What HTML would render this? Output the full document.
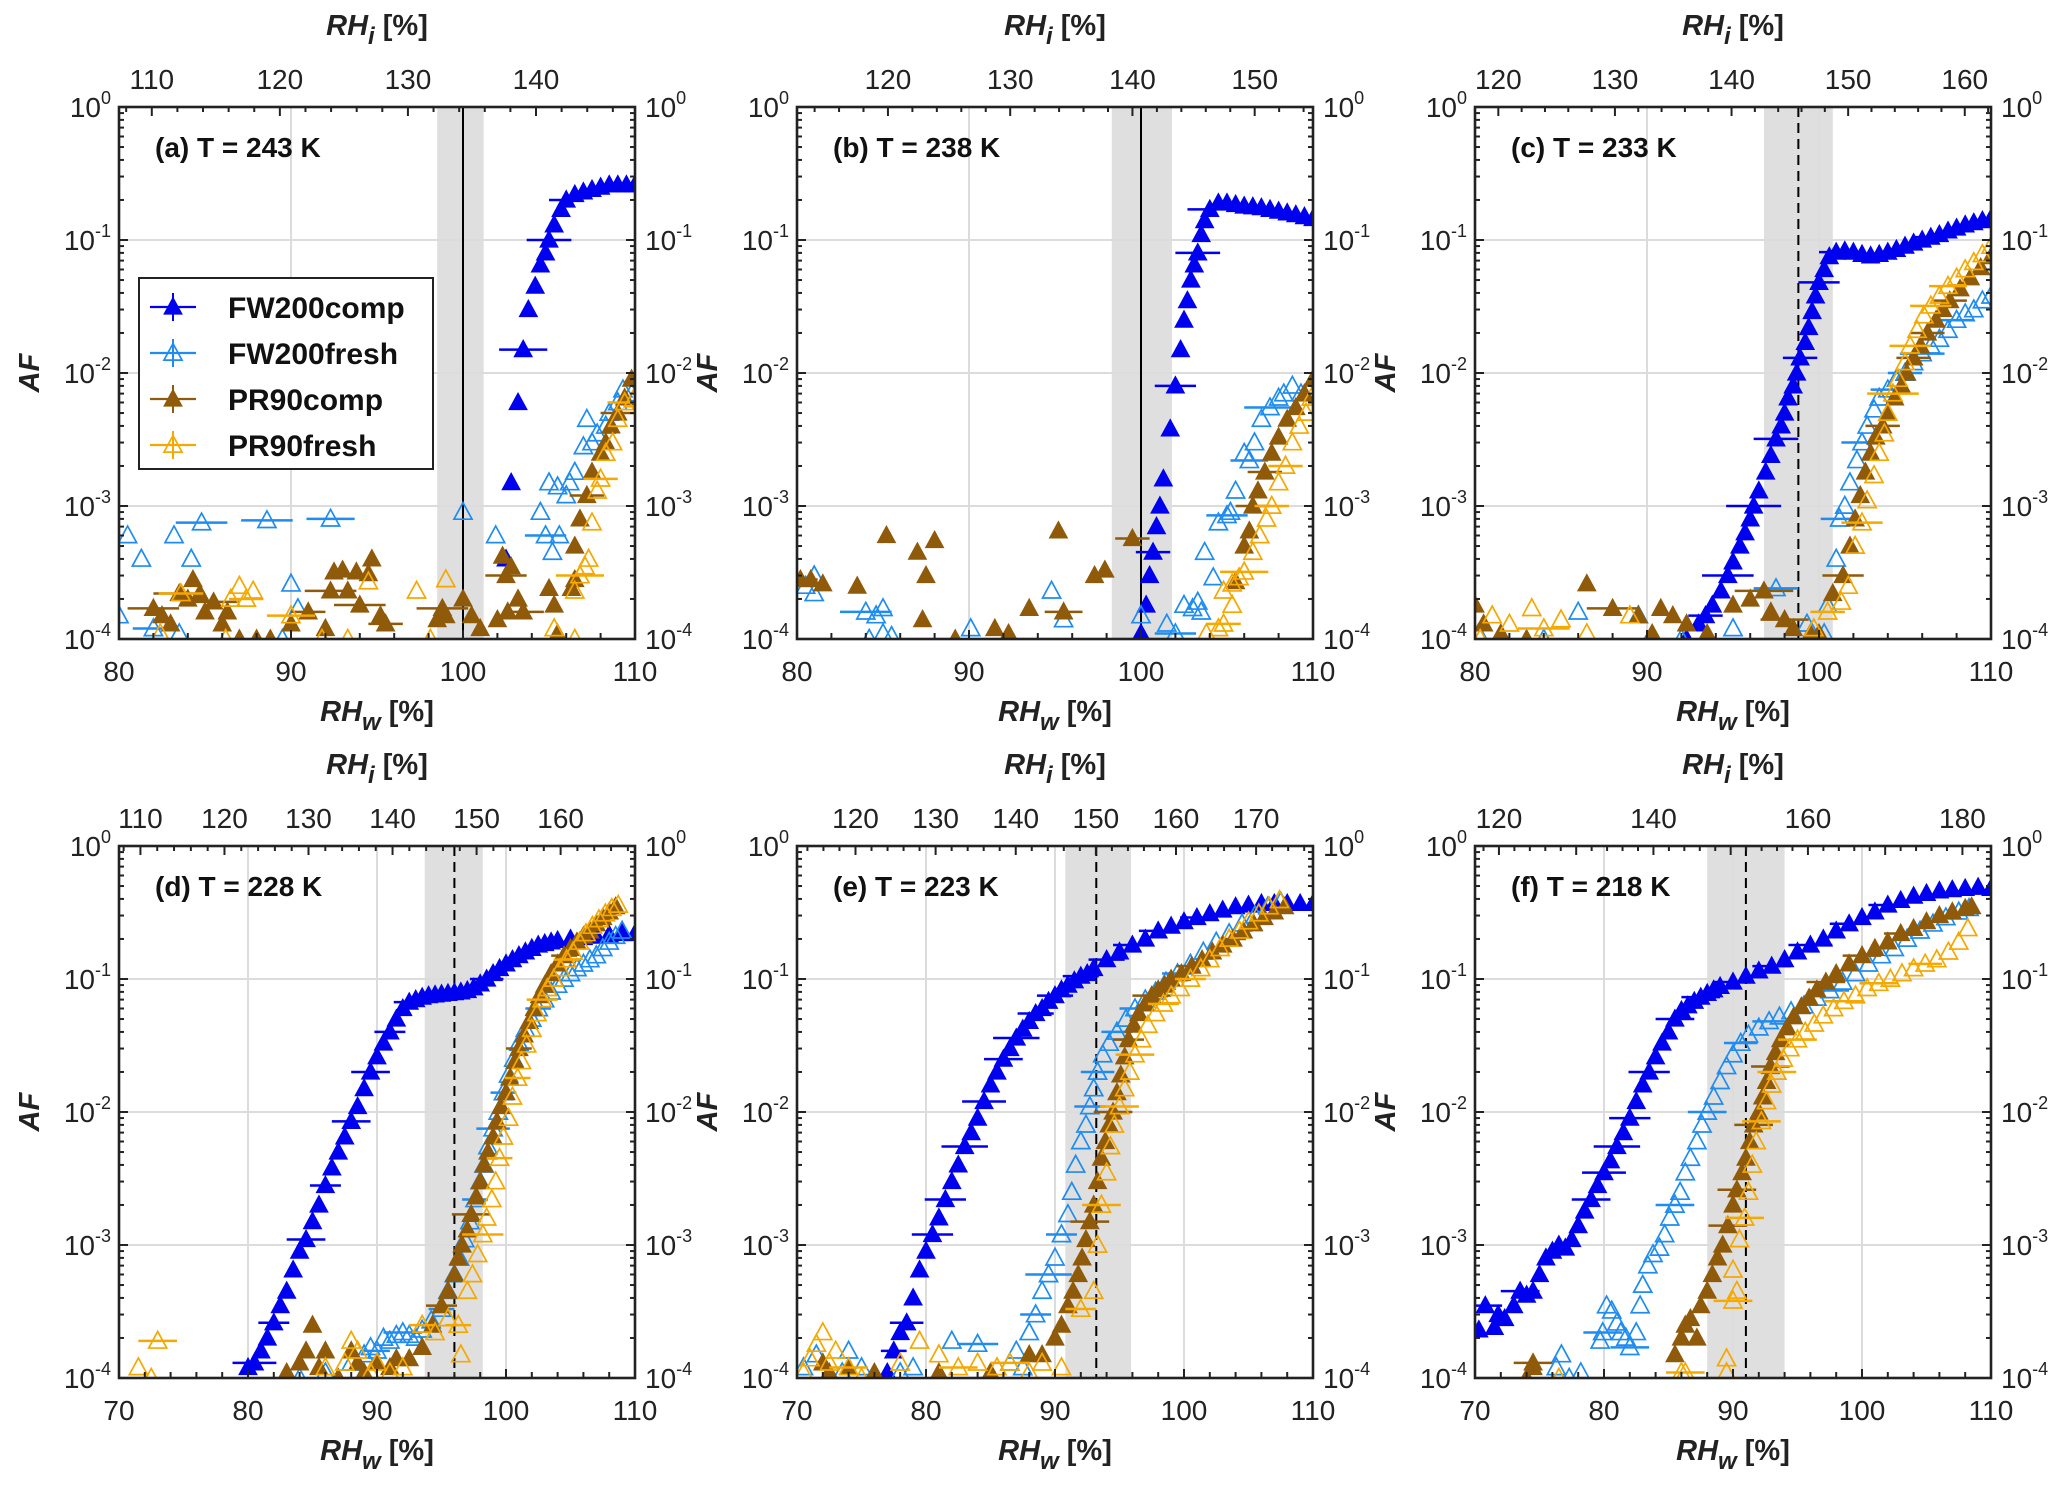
<!DOCTYPE html>
<html><head><meta charset="utf-8">
<style>
html,body{margin:0;padding:0;background:#fff;}
svg{display:block;font-family:"Liberation Sans",Arial,sans-serif;}
</style></head>
<body>
<svg id="chart" width="2067" height="1490" viewBox="0 0 2067 1490" xmlns="http://www.w3.org/2000/svg"></svg>
<script>
// ---------- DATA: [RHw %, AF, horizontal error half-width] ----------
const panelLabels = ["(a) T = 243 K","(b) T = 238 K","(c) T = 233 K","(d) T = 228 K","(e) T = 223 K","(f) T = 218 K"];
const xMins = [80,80,80,70,70,70];
const xTicks = [[80,90,100,110],[80,90,100,110],[80,90,100,110],[70,80,90,100,110],[70,80,90,100,110],[70,80,90,100,110]];
const iceRatios = [1.343,1.407,1.475,1.535,1.61,1.67];
const iceTicks = [[110,120,130,140],[120,130,140,150],[120,130,140,150,160],[110,120,130,140,150,160],[120,130,140,150,160,170],[120,140,160,180]];
const satLines = [100,100,98.8,96,93.2,91];
const satDashed = [false,false,true,true,true,true];
const shadeLo = [98.5,98.3,96.8,93.7,90.8,88];
const shadeHi = [101.2,101.8,100.8,98.2,95.9,94];
const yTickExps = [0,-1,-2,-3,-4];

const a_FW200comp=[[102.5,4e-4,0],[102.8,1.5e-3,0],[103.2,6e-3,0],[103.5,1.5e-2,1.4],[103.8,3e-2,0],[104.2,4.5e-2,0],[104.5,6.5e-2,0],[104.8,8e-2,0],[105,0.1,1.3],[105.3,0.13,0],[105.7,0.17,0],[106,0.2,1],[106.5,0.22,0],[107,0.23,0],[107.5,0.24,0],[108,0.25,0],[108.5,0.26,0],[109,0.26,0],[109.5,0.26,0],[110,0.26,0]];
const a_FW200fresh=[[80,1.5e-4,0],[80.5,6e-4,0],[81.3,4e-4,0],[83.2,6e-4,0],[84.2,4e-4,0],[84.8,7.5e-4,1.5],[88.6,7.8e-4,1.5],[92.3,8e-4,1.4],[90,2.6e-4,0],[90.4,1.7e-4,0],[89.5,1e-4,0],[82,1.2e-4,1.2],[83.5,1.1e-4,0],[100,9e-4,0],[101.9,6e-4,0],[104.5,9e-4,0],[104.8,6e-4,1.2],[105.6,6e-4,0],[105.2,4.5e-4,0],[105,1.5e-3,0],[105.5,1.4e-3,0],[106,1.2e-3,0],[106.2,1.5e-3,0],[106.5,1.8e-3,0],[107,2.8e-3,0],[107.2,4.5e-3,0],[107.5,3e-3,0],[107.8,3.5e-3,0],[108.3,4e-3,0],[108.5,5e-3,0],[109,6e-3,0],[109.3,7.5e-3,0],[109.8,7e-3,0]];
const a_PR90comp=[[82,1.7e-4,1.5],[82.5,1.5e-4,0],[83,1.3e-4,0],[83.5,2.2e-4,1.5],[84,2e-4,0],[84.3,2.8e-4,0],[84.7,2.2e-4,0],[85,1.6e-4,0],[85.5,1.9e-4,1.5],[86,1.3e-4,0],[86.3,1.6e-4,0],[87,1e-4,0],[88,1e-4,0],[88.8,1e-4,0],[90,1.3e-4,0],[91,1.6e-4,1],[92,1.2e-4,0],[92.3,2.3e-4,1.5],[92.5,3.2e-4,0],[93,3.3e-4,0],[93.3,2.3e-4,0],[93.8,3.2e-4,0],[94,1.8e-4,1.5],[94.5,3.1e-4,0],[94.7,4e-4,0],[95.2,1.5e-4,0],[95.5,1.3e-4,1],[98.5,1.4e-4,0],[98.8,1.7e-4,1.5],[99,1.5e-4,0],[100,2e-4,0],[100.5,1.5e-4,0],[101,1.2e-4,0],[102.3,4.2e-4,0],[102.5,3e-4,1.2],[102.8,3.5e-4,0],[102,1.4e-4,0],[102.6,1.6e-4,0],[103.2,2e-4,0],[103.5,1.6e-4,1.2],[105,2.4e-4,0],[105.3,1.8e-4,0],[105.5,1.1e-4,0],[106.3,2.4e-4,0],[106.5,2.8e-4,0],[106.5,5e-4,0],[106.8,8e-4,0],[107.2,1.2e-3,1],[107.5,1.8e-3,0],[108,2.5e-3,0],[108.3,3e-3,0],[108.6,4e-3,0],[109,5e-3,1],[109.4,6.5e-3,0],[109.8,9e-3,0]];
const a_PR90fresh=[[82.4,1.1e-4,0],[83.6,2.2e-4,1.3],[86.2,1e-4,0],[86.5,2e-4,0],[87,2.5e-4,0],[87.4,2e-4,1],[87.8,2.3e-4,0],[90,1.5e-4,1.4],[91.8,1e-4,0],[93.3,1e-4,0],[94.5,2.7e-4,0],[97.3,2.3e-4,0],[98.1,1e-4,0],[99,2.8e-4,0],[105.3,1.2e-4,0],[106.5,1e-4,0],[106.5,2.3e-4,0],[106.8,3e-4,1.4],[107.1,3.5e-4,0],[107.3,4e-4,0],[107.5,7.5e-4,0],[107.8,1.3e-3,0],[108,1.6e-3,1],[108.3,2.5e-3,0],[108.7,3e-3,0],[109,4.5e-3,0],[109.4,6e-3,1],[109.9,6.3e-3,0]];

const b_FW200comp=[[100,1.1e-4,0],[100.3,1.8e-4,0],[100.5,3e-4,0],[100.7,4.5e-4,1],[100.9,7e-4,0],[101.1,1e-3,0],[101.3,1.6e-3,0],[101.7,3.8e-3,0],[102,8e-3,1.2],[102.3,1.5e-2,0],[102.5,2.5e-2,0],[102.7,3.5e-2,0],[102.9,5e-2,0],[103.1,6.5e-2,0],[103.3,8e-2,1.3],[103.5,0.11,0],[103.7,0.14,0],[104,0.17,1.3],[104.5,0.19,0],[105,0.19,0],[105.5,0.185,0],[106,0.18,0],[106.5,0.178,0],[107,0.175,0],[107.5,0.17,0],[108,0.165,0],[108.5,0.16,0],[109,0.155,0],[109.5,0.15,0],[110,0.145,0]];
const b_FW200fresh=[[80.5,2.5e-4,0],[81,3e-4,0],[81,2.2e-4,0],[84,1.6e-4,1.5],[84.6,1.5e-4,0],[85,1.7e-4,0],[84.2,1e-4,0],[85,1.1e-4,0],[85.5,1.05e-4,0],[90.1,1.2e-4,0],[94.8,2.3e-4,0],[95.5,1.4e-4,0],[100,1.5e-4,0],[101.5,1.3e-4,0],[102,1.1e-4,1.2],[102.5,1.8e-4,0],[103,1.7e-4,0],[103.3,1.9e-4,0],[103.5,1.6e-4,0],[104.2,2.9e-4,0],[103.7,4.5e-4,0],[104.5,7.5e-4,0],[105,8.5e-4,1.2],[105.2,9e-4,0],[105.5,1.3e-3,0],[106,2.5e-3,0],[106.3,2.2e-3,1.1],[106.6,3e-3,0],[107,4.5e-3,0],[107.5,5.5e-3,1.5],[108,6.5e-3,0],[108.3,7e-3,0],[108.8,8e-3,0],[109.3,7e-3,0],[109.7,7.5e-3,0]];
const b_PR90comp=[[80.2,2.8e-4,1],[80.8,2.8e-4,0],[81.5,2.6e-4,0],[83.5,2.5e-4,0],[85.2,6e-4,0],[87,4.5e-4,0],[87.5,3e-4,0],[88,5.5e-4,0],[87.3,1.4e-4,0],[89.2,1e-4,0],[91.5,1.2e-4,0],[92.3,1.1e-4,0],[93.5,1.7e-4,0],[95.2,6.5e-4,0],[95.5,1.6e-4,1.1],[97.3,3e-4,0],[97.9,3.3e-4,0],[99.5,5.7e-4,1],[105.5,2.7e-4,0],[106,5e-4,0],[106.3,6.5e-4,0],[106.5,1e-3,1],[106.8,1.3e-3,0],[107.2,1.8e-3,1],[107.6,2.5e-3,0],[108,3.3e-3,0],[108.5,4.5e-3,0],[109,5.5e-3,0],[109.5,7e-3,0],[110,9e-3,0]];
const b_PR90fresh=[[103.8,1.1e-4,0],[104.5,1.2e-4,0],[104.8,1.3e-4,1],[105.3,1.8e-4,0],[104.8,2.3e-4,0],[105.3,2.6e-4,0],[105.7,2.9e-4,0],[106,3.2e-4,1.4],[106.5,4.5e-4,0],[106.9,6e-4,0],[107.3,8e-4,0],[107.6,1e-3,1],[108,1.5e-3,0],[108.4,2e-3,1],[108.8,3e-3,0],[109.2,4e-3,0],[109.6,5e-3,0],[109.9,6.5e-3,0]];

const c_FW200comp=[[92.3,1e-4,0],[93,1.3e-4,0],[93.4,1.5e-4,1],[93.8,1.8e-4,0],[94.3,2.3e-4,0],[94.7,3e-4,1.5],[95,3.8e-4,0],[95.4,5e-4,0],[95.7,6.3e-4,0],[96,8e-4,0],[96.2,1e-3,1.6],[96.5,1.3e-3,0],[96.9,1.8e-3,0],[97.2,2.4e-3,0],[97.5,3.2e-3,1.3],[97.8,4e-3,0],[98,5e-3,0],[98.2,6.5e-3,0],[98.5,8e-3,0],[98.7,1e-2,0],[98.9,1.3e-2,1],[99.2,1.7e-2,0],[99.4,2.2e-2,0],[99.6,2.9e-2,0],[99.8,3.8e-2,0],[100,4.8e-2,1.2],[100.3,6e-2,0],[100.6,7.5e-2,0],[101,8.1e-2,1],[101.5,8.3e-2,0],[102,8.1e-2,0],[102.5,7.8e-2,0],[103,7.6e-2,0],[103.5,7.8e-2,0],[104,8.1e-2,0],[104.5,8.5e-2,0],[105,9e-2,0],[105.5,9.5e-2,0],[106,0.1,0],[106.5,0.105,1],[107,0.11,0],[107.5,0.117,0],[108,0.123,0],[108.5,0.13,0],[109,0.135,0],[109.5,0.14,0],[110,0.145,0]];
const c_FW200fresh=[[80.2,1.1e-4,0],[84,1e-4,0],[86,1.6e-4,0],[89.5,1.5e-4,0],[92,1e-4,0],[95,1.2e-4,0],[97.5,2.4e-4,1.3],[99.3,1.3e-4,0],[100.3,1.1e-4,0],[100.5,1.8e-4,0],[101,4e-4,0],[101.2,8e-4,1.1],[101.5,1e-3,0],[101.8,1.5e-3,0],[102.2,2.2e-3,0],[102.5,3e-3,1.2],[102.8,4e-3,0],[103.2,5.3e-3,0],[103.5,6.5e-3,0],[104,7.5e-3,1],[104.5,9e-3,0],[105,1e-2,1],[105.5,1.2e-2,0],[106,1.4e-2,1.3],[106.5,1.6e-2,0],[107,1.8e-2,0],[107.5,2.1e-2,0],[108,2.5e-2,1],[108.5,2.8e-2,0],[109,3e-2,0],[109.5,3.5e-2,0],[110,3.8e-2,0]];
const c_PR90comp=[[80,1.8e-4,0],[80.5,1.3e-4,0],[81.5,1.1e-4,0],[83,1e-4,0],[86.5,2.6e-4,0],[88,1.7e-4,1.5],[89.5,1.5e-4,0],[90.3,1.1e-4,0],[90.8,1.7e-4,0],[91.5,1.5e-4,0],[92.3,1.3e-4,0],[93.5,1.1e-4,0],[95,1.8e-4,0],[96,2e-4,0],[96.8,2.3e-4,1.7],[97.2,1.6e-4,0],[98,1.4e-4,1.4],[98.5,1.2e-4,0],[99.5,1.1e-4,0],[100,1.1e-4,0],[100.8,2.2e-4,0],[101.4,3e-4,1.2],[101.8,5e-4,0],[102.1,8e-4,0],[102.4,1.2e-3,0],[102.7,1.8e-3,0],[103,2.5e-3,0],[103.3,3.3e-3,0],[103.7,4e-3,1],[104,5e-3,0],[104.4,6.5e-3,0],[104.8,8e-3,0],[105.1,1e-2,0],[105.5,1.3e-2,1],[105.9,1.6e-2,0],[106.3,2e-2,1],[106.8,2.5e-2,0],[107.2,3e-2,0],[107.6,3.5e-2,1],[108.2,4.3e-2,0],[108.8,5.2e-2,0],[109.4,6.2e-2,0],[110,7.5e-2,0]];
const c_PR90fresh=[[80.3,1e-4,0],[81,1.5e-4,0],[82,1.3e-4,0],[83.3,1.7e-4,0],[84,1.2e-4,1.5],[85,1.4e-4,0],[86.5,1.1e-4,0],[89,1.5e-4,0],[99.7,1.2e-4,0],[100.5,1.6e-4,1],[101.3,1.9e-4,0],[101.7,2.5e-4,0],[102.1,5e-4,0],[102.5,7.5e-4,1.2],[102.8,1.1e-3,0],[103.2,1.7e-3,0],[103.5,2.5e-3,0],[103.8,3.5e-3,0],[104,5e-3,0],[104.3,7e-3,1.5],[104.6,9e-3,0],[105,1.2e-2,0],[105.3,1.6e-2,1.2],[105.7,2.1e-2,0],[106.1,2.7e-2,0],[106.5,3.2e-2,1.2],[107,3.8e-2,0],[107.5,4.5e-2,1.1],[108,5.2e-2,0],[108.5,6e-2,0],[109,6.8e-2,0],[109.5,7.8e-2,0],[110,9e-2,0]];

const d_FW200comp=[[80,1.2e-4,0],[80.5,1.3e-4,1.7],[81,1.6e-4,0],[81.5,2e-4,0],[82,2.6e-4,1.2],[82.5,3.5e-4,0],[83,4.5e-4,0],[83.5,6.5e-4,0],[84,9e-4,0],[84.5,1.1e-3,1.5],[85,1.5e-3,0],[85.5,2e-3,0],[86,2.8e-3,1.2],[86.5,3.8e-3,0],[87,5e-3,0],[87.5,6.5e-3,0],[88,8.5e-3,1.5],[88.5,1.1e-2,0],[89,1.5e-2,0],[89.5,2e-2,1.5],[90,2.6e-2,0],[90.5,3.3e-2,0],[91,4e-2,1.2],[91.5,5e-2,0],[92,6e-2,0],[92.5,6.7e-2,1.2],[93,7e-2,0],[93.5,7.3e-2,0],[94,7.5e-2,0],[94.5,7.6e-2,0],[95,7.7e-2,0],[95.5,7.8e-2,0],[96,7.9e-2,0],[96.5,8e-2,0],[97,8.2e-2,0],[97.5,8.6e-2,0],[98,9.2e-2,0],[98.5,0.1,1.3],[99,0.11,0],[99.5,0.12,0],[100,0.13,0],[100.5,0.14,0],[101,0.15,0],[101.5,0.16,0],[102,0.17,0],[102.5,0.18,0],[103,0.185,0],[103.5,0.19,0],[104,0.195,0],[105,0.2,0],[106,0.205,0],[107,0.21,0],[108,0.215,0],[109,0.22,0],[110,0.22,0]];
const d_FW200fresh=[[84,1e-4,0],[86,1.1e-4,0],[88,1.3e-4,0],[89,1.5e-4,0],[89.5,1.7e-4,0],[90,1.6e-4,1],[90.5,2e-4,0],[91,1.9e-4,0],[91.5,2.1e-4,0],[92,2.2e-4,1.5],[92.5,2.1e-4,0],[93,2e-4,0],[93.5,2.3e-4,0],[94.2,2.7e-4,0],[95,3.3e-4,1],[95.5,4.5e-4,0],[96,6e-4,0],[96.4,8e-4,0],[96.8,1.1e-3,0],[97.2,1.5e-3,0],[97.6,2.2e-3,1],[98,3e-3,0],[98.3,4e-3,0],[98.6,5.5e-3,0],[99,7.5e-3,1.3],[99.4,1e-2,0],[99.8,1.4e-2,1],[100.2,1.9e-2,0],[100.6,2.5e-2,0],[101,3.3e-2,0],[101.5,4.2e-2,0],[102,5e-2,0],[102.5,6e-2,1],[103,7e-2,0],[103.5,8e-2,0],[104,9e-2,0],[104.5,0.1,0],[105,0.11,0],[105.5,0.12,0],[106,0.13,0],[106.5,0.14,0],[107,0.15,0],[107.5,0.17,0],[108,0.19,0],[108.5,0.21,0],[109,0.23,0]];
const d_PR90comp=[[83,1.1e-4,0],[84,1.3e-4,0],[84.5,1.6e-4,0],[85,2.5e-4,0],[85.5,1.2e-4,0],[86,1.6e-4,0],[87,1e-4,0],[88,1.6e-4,0],[88.5,1.3e-4,0],[89,1.1e-4,0],[90,1.3e-4,0],[91,1.2e-4,0],[91.5,1.4e-4,0],[92.5,1.4e-4,0],[93.5,1.7e-4,0],[94.3,2.5e-4,0],[95,3.5e-4,1.2],[95.5,4.5e-4,0],[96,6e-4,0],[96.3,8e-4,0],[96.6,1e-3,0],[97,1.3e-3,0],[97.3,1.7e-3,1.5],[97.7,2.3e-3,0],[98,3e-3,0],[98.3,4e-3,0],[98.6,5e-3,0],[99,6.5e-3,0],[99.3,8.5e-3,0],[99.6,1.1e-2,0],[100,1.4e-2,0],[100.3,1.8e-2,0],[100.7,2.4e-2,0],[101,3e-2,1],[101.4,3.8e-2,0],[101.8,4.8e-2,0],[102.2,6e-2,0],[102.6,7.5e-2,0],[103,9e-2,0],[103.5,0.11,0],[104,0.13,0],[104.5,0.15,1],[105,0.17,0],[105.5,0.19,0],[106,0.21,0],[106.5,0.23,0],[107,0.26,0],[107.5,0.29,0],[108,0.32,0],[108.5,0.35,0]];
const d_PR90fresh=[[71.5,1.2e-4,0],[72.5,1e-4,0],[73,1.9e-4,1.5],[86,1.2e-4,0],[87.5,1.3e-4,0],[88,1.9e-4,0],[88.5,1.6e-4,0],[89.5,1.1e-4,0],[90,1.3e-4,0],[91,1.1e-4,0],[92,1.2e-4,0],[93.5,2.5e-4,1],[94.5,2.2e-4,0],[95.5,2.8e-4,0],[96.3,2.5e-4,1],[96.5,1.5e-4,0],[97,4.5e-4,0],[97.4,6e-4,0],[97.8,8.5e-4,0],[98.2,1.2e-3,1.6],[98.5,1.6e-3,0],[98.9,2.2e-3,0],[99.2,3e-3,0],[99.5,4.5e-3,1],[99.8,6.5e-3,0],[100.2,9e-3,0],[100.5,1.3e-2,0],[100.9,1.8e-2,1],[101.2,2.4e-2,0],[101.6,3.2e-2,0],[102,4.2e-2,0],[102.4,5.5e-2,0],[102.8,7e-2,1.2],[103.2,8.5e-2,0],[103.7,0.1,0],[104.2,0.12,0],[104.7,0.14,1],[105.2,0.16,0],[105.7,0.19,0],[106.2,0.22,0],[106.7,0.25,0],[107.2,0.28,0],[107.7,0.31,0],[108.2,0.34,0],[108.7,0.36,0]];

const e_FW200comp=[[77,1.1e-4,0],[77.5,1.6e-4,1],[78,2.2e-4,0],[78.5,2.6e-4,1.3],[79,4e-4,0],[79.5,6.5e-4,0],[80,9e-4,0],[80.5,1.2e-3,1.6],[81,1.6e-3,0],[81.5,2.2e-3,1.6],[82,3e-3,0],[82.5,4e-3,0],[83,5.5e-3,1.8],[83.5,7e-3,0],[84,9e-3,0],[84.5,1.2e-2,1.7],[85,1.6e-2,0],[85.5,2e-2,0],[86,2.5e-2,1.5],[86.5,3e-2,0],[87,3.6e-2,1.8],[87.5,4.2e-2,0],[88,4.8e-2,0],[88.5,5.5e-2,1.4],[89,6e-2,0],[89.5,6.8e-2,0],[90,7.5e-2,1.4],[90.5,8.3e-2,0],[91,9e-2,0],[91.5,9.7e-2,0],[92,0.105,1.4],[92.5,0.11,0],[93,0.12,0],[94,0.14,1.4],[95,0.16,0],[96,0.18,1.5],[97,0.2,0],[98,0.23,1.5],[99,0.25,0],[100,0.27,0],[101,0.29,1.3],[102,0.31,0],[103,0.33,0],[104,0.35,0],[105,0.36,0],[106,0.37,0],[107,0.37,0],[108,0.37,0],[109,0.37,0],[110,0.37,0]];
const e_FW200fresh=[[70.5,1.2e-4,0],[71.5,1.5e-4,0],[73.5,1.1e-4,0],[74,1.6e-4,0],[75,1.2e-4,0],[78,1.1e-4,0],[79,1.2e-4,0],[82,1.9e-4,0],[84,1.8e-4,1.6],[86.5,1.3e-4,0],[87,1.6e-4,0],[87.5,1.2e-4,0],[88,2.2e-4,0],[88.5,3e-4,1.2],[89,4.5e-4,0],[89.5,6e-4,1.8],[90,8e-4,0],[90.5,1.2e-3,1.2],[91,1.7e-3,0],[91.3,2.5e-3,0],[91.6,4e-3,0],[92,6e-3,0],[92.4,8e-3,0],[92.7,1.1e-2,1.2],[93,1.5e-2,0],[93.3,2e-2,1.3],[93.7,2.7e-2,0],[94.2,3.3e-2,0],[94.8,4e-2,1.2],[95.5,5e-2,0],[96.2,6e-2,1.2],[97,7e-2,0],[97.8,8e-2,0],[98.6,9.5e-2,0],[99.5,0.11,1.2],[100.5,0.13,0],[101.5,0.16,0],[102.5,0.19,0],[103.5,0.22,0],[104.5,0.26,0],[105.5,0.3,0],[106.5,0.35,0],[107.5,0.38,0]];
const e_PR90comp=[[72,1.3e-4,0],[72.5,1.1e-4,0],[74,1.2e-4,0],[76,1.1e-4,0],[81,1.1e-4,0],[85,1.1e-4,0],[88,1.5e-4,0],[89,1.5e-4,0],[90,2e-4,0],[90.5,2.5e-4,0],[91,3.5e-4,0],[91.4,4.5e-4,0],[91.8,6e-4,0],[92.1,8e-4,0],[92.4,1.1e-3,0],[92.7,1.5e-3,1.5],[93,2e-3,0],[93.3,3e-3,0],[93.6,4.5e-3,0],[93.9,6e-3,0],[94.2,8e-3,0],[94.5,1e-2,1.5],[94.8,1.4e-2,0],[95.1,1.9e-2,0],[95.4,2.6e-2,0],[95.7,3.5e-2,1.2],[96.1,4.5e-2,0],[96.5,5.5e-2,0],[97,6.5e-2,0],[97.5,7.5e-2,1.5],[98,8.3e-2,0],[98.5,9e-2,0],[99,0.1,0],[99.8,0.11,0],[100.6,0.125,1.2],[101.4,0.14,0],[102.2,0.16,0],[103,0.18,0],[103.8,0.2,1],[104.6,0.23,0],[105.4,0.26,0],[106.2,0.29,0],[107,0.32,0],[107.8,0.35,0]];
const e_PR90fresh=[[70.5,1.1e-4,0],[71,1.4e-4,0],[71.5,1.8e-4,0],[72,2.2e-4,0],[72.5,1.3e-4,0],[73,1.6e-4,0],[74,1.2e-4,1.5],[75,1e-4,0],[78,1.3e-4,0],[79.5,1.9e-4,0],[81,1.5e-4,0],[82.5,1.2e-4,1.5],[84,1.3e-4,0],[85.5,1.2e-4,0],[86.5,1.3e-4,1.5],[88,1.1e-4,0],[89,1.3e-4,0],[90.5,1.2e-4,0],[92,3.3e-4,1.2],[93,4.5e-4,0],[93.3,1e-3,0],[93.6,2e-3,1.5],[94,3.5e-3,0],[94.3,5.5e-3,0],[94.6,8e-3,0],[95,1.1e-2,1.5],[95.4,1.5e-2,0],[95.8,2e-2,0],[96.2,2.7e-2,1.5],[96.7,3.5e-2,0],[97.2,4.5e-2,0],[97.8,5.5e-2,0],[98.4,6.5e-2,1.2],[99,7.5e-2,0],[99.7,8.5e-2,0],[100.5,0.1,1.2],[101.3,0.12,0],[102,0.14,0],[102.8,0.17,0],[103.5,0.2,0],[104.3,0.23,0],[105,0.27,0],[105.8,0.31,0],[106.6,0.35,0],[107.4,0.39,0]];

const f_FW200comp=[[70.3,2.3e-4,0],[70.8,3.5e-4,1.3],[71.5,2.4e-4,0],[71.8,3e-4,0],[72.3,2.8e-4,0],[73,3.5e-4,0],[73.5,4.5e-4,1.5],[74,4.2e-4,0],[74.5,4.5e-4,0],[75,6e-4,0],[75.5,8e-4,0],[76,9e-4,0],[76.5,1e-3,0],[77,9.5e-4,0],[77.5,1.1e-3,0],[78,1.4e-3,0],[78.5,1.8e-3,0],[79,2.2e-3,1.5],[79.5,2.8e-3,0],[80,3.5e-3,1.7],[80.5,4.3e-3,0],[81,5.5e-3,1.8],[81.5,7e-3,0],[82,9e-3,1.6],[82.5,1.2e-2,0],[83,1.6e-2,0],[83.5,2e-2,1.6],[84,2.6e-2,0],[84.5,3.3e-2,0],[85,4e-2,0],[85.5,5e-2,1.5],[86,5.8e-2,0],[86.5,6.3e-2,0],[87,6.8e-2,0],[87.5,7.3e-2,1.5],[88,7.8e-2,0],[88.5,8.3e-2,0],[89,8.8e-2,0],[90,9.5e-2,1.5],[91,0.105,0],[92,0.115,0],[93,0.125,1.5],[94,0.14,0],[95,0.16,0],[96,0.18,1.7],[97,0.2,0],[98,0.23,0],[99,0.26,1.5],[100,0.29,0],[101,0.32,0],[102,0.36,1.5],[103,0.39,0],[104,0.42,0],[105,0.44,0],[106,0.46,0],[107,0.47,0],[108,0.48,0],[109,0.49,0],[110,0.48,0]];
const f_FW200fresh=[[76.3,1.2e-4,0],[76.7,1.5e-4,0],[77.3,1e-4,0],[78.2,1.1e-4,0],[79.7,1.9e-4,0],[79.9,2.2e-4,1.5],[80.2,3.5e-4,0],[80.6,3.2e-4,0],[81,2.6e-4,0],[81.3,2.2e-4,0],[81.7,2e-4,0],[82,1.7e-4,1.5],[82.5,2.2e-4,0],[82.8,3.5e-4,0],[83,5e-4,0],[83.4,7e-4,0],[83.8,8.5e-4,0],[84.3,9.5e-4,0],[84.7,1.2e-3,0],[85.1,1.6e-3,0],[85.5,2e-3,1.5],[85.9,2.5e-3,0],[86.3,3.5e-3,0],[86.7,4.5e-3,0],[87.2,6e-3,0],[87.6,8e-3,0],[88,1e-2,1.5],[88.5,1.3e-2,0],[89,1.7e-2,0],[89.5,2.2e-2,0],[90,2.7e-2,0],[90.6,3.3e-2,1.3],[91.2,3.8e-2,0],[92,4.3e-2,0],[92.8,4.8e-2,1.3],[93.6,5.2e-2,0],[94.5,5.7e-2,0],[95.5,6.3e-2,0],[96.5,7.2e-2,0],[97.5,8.2e-2,1.5],[98.5,9.5e-2,0],[99.5,0.11,0],[100.5,0.13,0],[101.5,0.15,0],[102.5,0.17,0],[103.5,0.2,0],[104.5,0.23,0],[105.5,0.26,0],[106.5,0.29,0],[107.5,0.32,0],[108.3,0.34,0]];
const f_PR90comp=[[74,1e-4,0],[74.5,1.3e-4,1.5],[74.5,1.2e-4,0],[85.5,1.5e-4,0],[86,2e-4,0],[86.3,2.5e-4,0],[86.7,2.8e-4,0],[87.2,2e-4,0],[87.5,3.5e-4,0],[88,4.5e-4,0],[88.4,6e-4,0],[88.8,8e-4,0],[89.2,1e-3,0],[89.6,1.4e-3,1.5],[90,2e-3,0],[90.3,2.6e-3,1.5],[90.7,3.5e-3,0],[91,4.5e-3,0],[91.3,6e-3,0],[91.6,8e-3,1.5],[92,1e-2,0],[92.3,1.3e-2,0],[92.6,1.7e-2,0],[92.9,2.2e-2,1.5],[93.3,2.8e-2,0],[93.7,3.5e-2,0],[94.2,4.3e-2,0],[94.7,5.2e-2,0],[95.3,6.2e-2,0],[95.9,7.2e-2,0],[96.5,8.3e-2,0],[97.2,9.5e-2,1.5],[98,0.11,0],[99,0.13,0],[100,0.15,1.5],[101,0.17,0],[102,0.19,0],[103,0.22,1.3],[104,0.24,0],[105,0.27,0],[106,0.3,0],[107,0.32,0],[108,0.34,0],[108.5,0.35,0]];
const f_PR90fresh=[[76.5,1e-4,0],[86,1.1e-4,0],[86.3,1.1e-4,1.5],[89.5,1.4e-4,0],[89.5,1.1e-4,0],[90,3.8e-4,1.5],[90.3,4.5e-4,0],[90,6.5e-4,0],[90.5,1.1e-3,0],[90.9,1.6e-3,1.5],[91.2,2.5e-3,0],[91.5,4e-3,0],[91.8,6e-3,0],[92.2,8.5e-3,1.5],[92.6,1.2e-2,0],[93,1.6e-2,0],[93.4,2e-2,1.5],[93.9,2.5e-2,0],[94.4,3e-2,0],[95,3.5e-2,1.5],[95.6,4e-2,0],[96.3,4.6e-2,0],[97,5.3e-2,0],[97.8,6e-2,0],[98.6,6.8e-2,1.5],[99.5,7.5e-2,0],[100.4,8.5e-2,0],[101.3,9.3e-2,1.5],[102.2,0.1,0],[103.1,0.11,0],[104,0.12,0],[104.9,0.13,1.3],[105.8,0.14,0],[106.7,0.16,0],[107.5,0.19,0],[108.2,0.24,0]];

const seriesNames = ["FW200comp","FW200fresh","PR90comp","PR90fresh"];
const panelSeries = [
  [a_FW200comp,a_FW200fresh,a_PR90comp,a_PR90fresh],
  [b_FW200comp,b_FW200fresh,b_PR90comp,b_PR90fresh],
  [c_FW200comp,c_FW200fresh,c_PR90comp,c_PR90fresh],
  [d_FW200comp,d_FW200fresh,d_PR90comp,d_PR90fresh],
  [e_FW200comp,e_FW200fresh,e_PR90comp,e_PR90fresh],
  [f_FW200comp,f_FW200fresh,f_PR90comp,f_PR90fresh]
];

// ---------- STYLE / LAYOUT ----------
const colors = ["#0000f0","#1e8cf0","#8f5a0a","#f5a800"];
const filled = [true,false,true,false];
const colX = [119,797,1475], rowY = [107,846], W = 516, H = 532;
const NS = "http://www.w3.org/2000/svg";
const svg = document.getElementById("chart");
function mk(tag, attrs, parent, text){
  const e = document.createElementNS(NS, tag);
  for (const k in attrs) e.setAttribute(k, attrs[k]);
  if (text !== undefined) e.textContent = text;
  (parent || svg).appendChild(e);
  return e;
}
function tri(g, cx, cy, c, f){
  const s = 9.5;
  const el = mk("polygon", {points:`${cx},${cy-s} ${cx-s*0.95},${cy+s*0.75} ${cx+s*0.95},${cy+s*0.75}`,
    fill: f ? c : "none", stroke: c, "stroke-width": f ? 1 : 1.7}, g);
  return el;
}

for (let p = 0; p < 6; p++){
  const L = colX[p % 3], T = rowY[Math.floor(p / 3)], R = L + W, B = T + H;
  const x0 = xMins[p], x1 = 110;
  const sx = v => L + (v - x0) / (x1 - x0) * W;
  const sy = v => B - (Math.log10(v) + 4) / 4 * H;
  const clipId = "clip" + p;
  const g = mk("g", {});
  
  
  const defs = mk("defs", {}, g);
  const cp = mk("clipPath", {id: clipId}, defs);
  mk("rect", {x: L, y: T, width: W, height: H}, cp);

  const grid = mk("g", {stroke: "#dcdcdc", "stroke-width": 2}, g);
  
  
  xTicks[p].forEach(v => mk("line", {x1: sx(v), x2: sx(v), y1: T, y2: B}, grid));
  yTickExps.forEach(e => mk("line", {x1: L, x2: R, y1: sy(Math.pow(10, e)), y2: sy(Math.pow(10, e))}, grid));

  const sh = mk("rect", {x: sx(shadeLo[p]), y: T, width: sx(shadeHi[p]) - sx(shadeLo[p]), height: H, fill: "#dcdcdc", opacity: 0.9}, g);
  
  
  const sl = mk("line", {x1: sx(satLines[p]), x2: sx(satLines[p]), y1: T, y2: B, stroke: "#000", "stroke-width": 2, "stroke-dasharray": satDashed[p] ? "10,6" : "none"}, g);
  
  

  const dg = mk("g", {"clip-path": `url(#${clipId})`}, g);
  panelSeries[p].forEach((data, si) => {
    const sg = mk("g", {}, dg);
    
    
    data.forEach(d => {
      const cx = sx(d[0]), cy = sy(d[1]);
      if (d[2] > 0){
        const eb = mk("line", {x1: sx(d[0] - d[2]), x2: sx(d[0] + d[2]), y1: cy, y2: cy, stroke: colors[si], "stroke-width": 2.5}, sg);
        
        
      }
      const m = tri(sg, cx, cy, colors[si], filled[si]);
      
      
    });
  });

  const box = mk("rect", {x: L, y: T, width: W, height: H, fill: "none", stroke: "#222", "stroke-width": 2.6}, g);
  
  

  const tk = mk("g", {stroke: "#222", "stroke-width": 2}, g);
  for (let v = x0; v <= x1; v += 2){
    const len = (v % 10 === 0) ? 9 : 6;
    mk("line", {x1: sx(v), x2: sx(v), y1: B, y2: B - len}, tk);
  }
  for (let e = -4; e < 0; e++){
    for (let k = 1; k < 10; k++){
      const y = sy(k * Math.pow(10, e));
      const len = k === 1 ? 9 : 5;
      mk("line", {x1: L, x2: L + len, y1: y, y2: y}, tk);
      mk("line", {x1: R, x2: R - len, y1: y, y2: y}, tk);
    }
  }
  const r = iceRatios[p];
  for (let v = Math.ceil(x0 * r / 2) * 2; v <= x1 * r; v += 2){
    const len = (v % 10 === 0) ? 9 : 5;
    const xx = sx(v / r);
    mk("line", {x1: xx, x2: xx, y1: T, y2: T + len}, tk);
  }

  xTicks[p].forEach(v => {
    const t = mk("text", {x: sx(v), y: B + 42, "text-anchor": "middle", "font-size": 28, fill: "#222"}, g, String(v));
    
    
  });
  iceTicks[p].forEach(v => {
    const t = mk("text", {x: sx(v / r), y: T - 18, "text-anchor": "middle", "font-size": 28, fill: "#222"}, g, String(v));
    
    
  });
  yTickExps.forEach(e => {
    const y = sy(Math.pow(10, e)) + 10;
    const tl = mk("text", {x: L - 8, y: y, "text-anchor": "end", "font-size": 28, fill: "#222"}, g);
    
    
    mk("tspan", {}, tl, "10");
    mk("tspan", {dy: -13, "font-size": 18}, tl, String(e));
    const tr = mk("text", {x: R + 10, y: y, "text-anchor": "start", "font-size": 28, fill: "#222"}, g);
    
    
    mk("tspan", {}, tr, "10");
    mk("tspan", {dy: -13, "font-size": 18}, tr, String(e));
  });

  const cxm = L + W / 2;
  const xt = mk("text", {x: cxm, y: B + 82, "text-anchor": "middle", "font-size": 29, "font-weight": "bold", fill: "#222"}, g);
  
  
  mk("tspan", {"font-style": "italic"}, xt, "RH");
  mk("tspan", {"font-style": "italic", dy: 9, "font-size": 24}, xt, "w");
  mk("tspan", {dy: -9}, xt, " [%]");
  const tt = mk("text", {x: cxm, y: T - 72, "text-anchor": "middle", "font-size": 29, "font-weight": "bold", fill: "#222"}, g);
  
  
  mk("tspan", {"font-style": "italic"}, tt, "RH");
  mk("tspan", {"font-style": "italic", dy: 9, "font-size": 24}, tt, "i");
  mk("tspan", {dy: -9}, tt, " [%]");
  const yl = mk("text", {x: 0, y: 0, transform: `translate(${L - 80},${T + H / 2}) rotate(-90)`, "text-anchor": "middle", "font-size": 29, "font-weight": "bold", "font-style": "italic", fill: "#222"}, g, "AF");
  
  

  const pt = mk("text", {x: L + 36, y: T + 50, "font-size": 28, "font-weight": "bold", fill: "#111"}, g, panelLabels[p]);
  
  
}

const lg = mk("g", {});


mk("rect", {x: 139, y: 278, width: 294, height: 191, fill: "#fff", stroke: "#222", "stroke-width": 2}, lg);
seriesNames.forEach((n, i) => {
  const y = 307 + i * 46;
  const en = mk("g", {}, lg);
  
  
  mk("line", {x1: 150, x2: 196, y1: y, y2: y, stroke: colors[i], "stroke-width": 2.2}, en);
  mk("line", {x1: 173, x2: 173, y1: y - 14, y2: y + 14, stroke: colors[i], "stroke-width": 2}, en);
  tri(en, 173, y, colors[i], filled[i]);
  mk("text", {x: 228, y: y + 11, "font-size": 30, "font-weight": "bold", fill: "#111"}, en, n);
});
</script>
</body></html>
